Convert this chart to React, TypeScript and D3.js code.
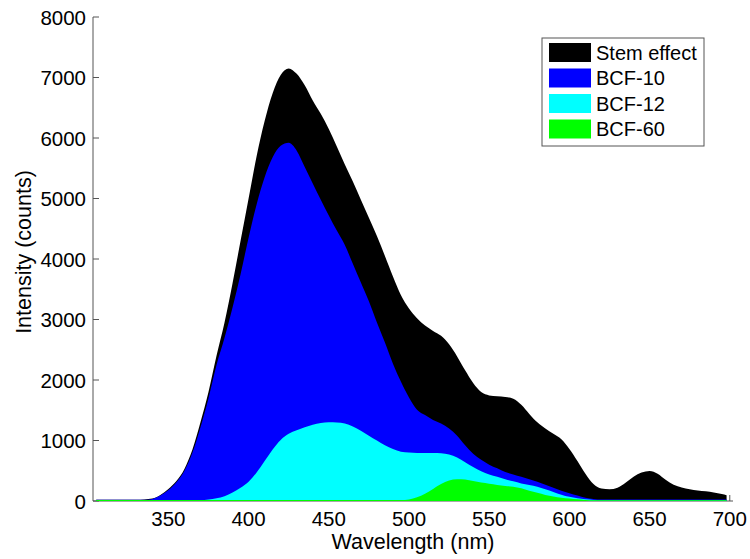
import React from "react";
import * as d3 from "d3";

const wavelengths = [305,310,315,320,325,330,335,340,345,350,355,360,365,370,375,380,385,390,395,400,405,410,415,420,425,430,435,440,445,450,455,460,465,470,475,480,485,490,495,500,505,510,515,520,525,530,535,540,545,550,555,560,565,570,575,580,585,590,595,600,605,610,615,620,625,630,635,640,645,650,655,660,665,670,675,680,685,690,695,698];

const stemEffect = [20,20,20,20,20,20,25,40,100,200,330,530,850,1300,1800,2400,2950,3600,4300,5000,5700,6280,6740,7040,7150,7060,6870,6620,6400,6150,5860,5560,5280,4980,4680,4380,4050,3710,3400,3180,3020,2900,2810,2730,2590,2390,2160,1950,1800,1745,1730,1720,1690,1590,1440,1300,1200,1110,1020,860,660,450,280,205,195,220,300,400,470,495,450,350,270,225,195,175,160,140,115,95];

const bcf10 = [20,20,20,20,20,20,20,35,90,180,310,500,800,1220,1700,2250,2700,3200,3750,4350,4900,5350,5680,5870,5920,5790,5520,5250,4980,4720,4470,4230,3920,3610,3300,2950,2620,2270,1970,1710,1510,1420,1340,1280,1200,1080,920,780,680,600,540,480,440,400,360,320,270,220,170,130,90,55,35,25,25,25,25,25,25,25,25,25,25,25,25,25,25,25,25,25];

const bcf12 = [10,10,10,10,10,10,10,10,10,10,10,10,10,10,25,45,80,140,220,320,470,660,850,1010,1110,1170,1220,1260,1290,1300,1298,1280,1230,1160,1080,1000,920,860,815,800,795,795,795,790,770,720,640,560,490,440,400,360,325,290,265,235,195,150,105,70,45,28,18,12,12,12,12,12,12,12,12,12,12,12,12,12,12,12,12,12];

const bcf60 = [15,15,15,15,15,15,15,15,15,15,15,15,15,15,15,15,15,15,15,15,15,15,15,15,15,15,15,15,15,15,15,15,15,15,15,15,15,15,15,25,60,120,200,280,340,360,355,330,305,285,265,250,235,210,170,135,100,75,55,40,28,18,12,12,12,12,12,12,12,12,12,12,12,12,12,12,12,12,12,12];

const seriesNames = ["Stem effect", "BCF-10", "BCF-12", "BCF-60"];
const seriesColors = ["#000000", "#0000ff", "#00ffff", "#00ff00"];
const seriesValues = [stemEffect, bcf10, bcf12, bcf60];

const xTicks = [350, 400, 450, 500, 550, 600, 650, 700];
const yTicks = [0, 1000, 2000, 3000, 4000, 5000, 6000, 7000, 8000];

const W = 750;
const H = 559;
const left = 93;
const right = 733;
const top = 17;
const bottom = 501;
const FONT = "'Liberation Sans', Arial, sans-serif";

export default function App() {
  const x = d3.scaleLinear().domain([303, 702]).range([left, right]);
  const y = d3.scaleLinear().domain([0, 8000]).range([bottom, top]);

  const area = (vals: number[]) =>
    d3
      .area<number>()
      .x((_, i) => x(wavelengths[i]))
      .y0(y(0))
      .y1((d) => y(d))
      .curve(d3.curveMonotoneX)(vals) || "";

  const legX = 542;
  const legY = 38;
  const legW = 162;
  const rowH = 25.5;

  return (
    <svg
      width={W}
      height={H}
      style={{ position: "absolute", left: 0, top: 0, background: "#fff" }}
      fontFamily={FONT}
    >
      {/* axes (drawn beneath data) */}
      <line x1={left} x2={left} y1={top} y2={bottom} stroke="#555" strokeWidth={1} />
      <line x1={left} x2={right} y1={bottom} y2={bottom} stroke="#555" strokeWidth={1} />
      {yTicks.map((t) => (
        <g key={"y" + t}>
          <line x1={left} x2={left + 6} y1={y(t)} y2={y(t)} stroke="#555" />
          <text
            x={left - 7}
            y={y(t)}
            textAnchor="end"
            dominantBaseline="central"
            fontSize={20.5}
            fill="#000"
          >
            {t}
          </text>
        </g>
      ))}
      {xTicks.map((t) => (
        <g key={"x" + t}>
          <line x1={x(t)} x2={x(t)} y1={bottom} y2={bottom - 6} stroke="#555" />
          <text
            x={x(t)}
            y={bottom + 17}
            textAnchor="middle"
            dominantBaseline="central"
            fontSize={20.5}
            fill="#000"
          >
            {t}
          </text>
        </g>
      ))}
      <text
        x={(left + right) / 2}
        y={542}
        textAnchor="middle"
        dominantBaseline="central"
        fontSize={21.5}
      >
        Wavelength (nm)
      </text>
      <text
        transform={`translate(24, 252) rotate(-90)`}
        textAnchor="middle"
        dominantBaseline="central"
        fontSize={21.5}
      >
        Intensity (counts)
      </text>

      {/* areas */}
      {seriesValues.map((vals, i) => (
        <path key={seriesNames[i]} d={area(vals)} fill={seriesColors[i]} stroke="none" />
      ))}

      {/* legend */}
      <rect
        x={legX}
        y={legY}
        width={legW}
        height={rowH * 4 + 6}
        fill="#fff"
        stroke="#555"
        strokeWidth={1}
      />
      {seriesNames.map((n, i) => (
        <g key={"leg" + n}>
          <rect
            x={legX + 7}
            y={legY + 5 + i * rowH}
            width={42}
            height={19}
            fill={seriesColors[i]}
          />
          <text
            x={legX + 54}
            y={legY + 5 + i * rowH + 9.5}
            dominantBaseline="central"
            fontSize={20}
          >
            {n}
          </text>
        </g>
      ))}
    </svg>
  );
}
